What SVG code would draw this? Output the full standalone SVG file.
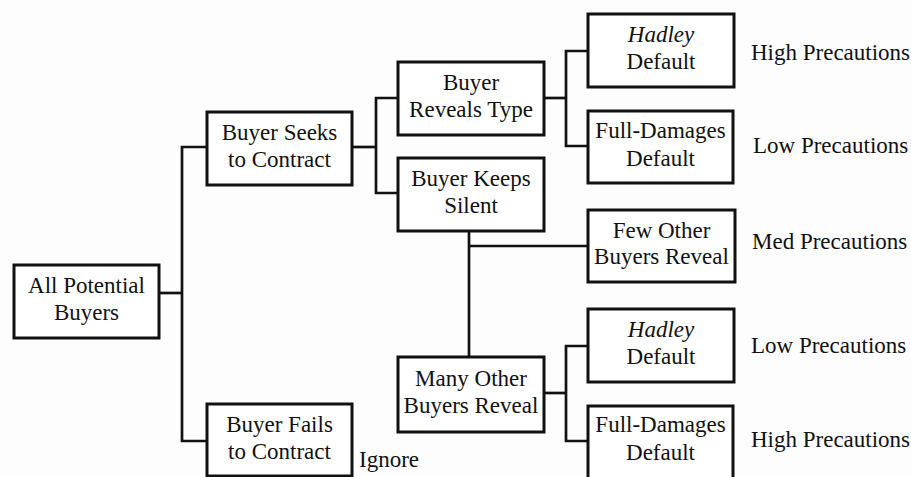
<svg xmlns="http://www.w3.org/2000/svg" width="911" height="477" viewBox="0 0 911 477">
  <style>
    .box { fill: #ffffff; stroke: #111111; stroke-width: 3; }
    .wire { fill: none; stroke: #111111; stroke-width: 2.7; stroke-linejoin: miter; }
    text { font-family: "Liberation Serif", "Times New Roman", serif; font-size: 23px; fill: #111111; }
    .c { text-anchor: middle; }
    .it { font-style: italic; }
  </style>
  <rect x="0" y="0" width="911" height="477" fill="#fdfdfd"/>

  <!-- tree connectors -->
  <g id="connectors">
    <path class="wire" d="M159,293 H182"/>
    <path class="wire" d="M207,147 H182 V441 H207"/>
    <path class="wire" d="M352,147 H376"/>
    <path class="wire" d="M398,98 H376 V193 H398"/>
    <path class="wire" d="M544,98 H566"/>
    <path class="wire" d="M588,51 H566 V146 H588"/>
    <path class="wire" d="M469,231 V357"/>
    <path class="wire" d="M469,246 H588"/>
    <path class="wire" d="M544,393 H566"/>
    <path class="wire" d="M588,346 H566 V441 H588"/>
  </g>

  <g id="all-buyers">
    <rect class="box" x="14" y="265" width="145" height="73"/>
    <text class="c" x="86.5" y="293">All Potential</text>
    <text class="c" x="86.5" y="320">Buyers</text>
  </g>

  <g id="seeks-contract">
    <rect class="box" x="207" y="112" width="145" height="73"/>
    <text class="c" x="279.5" y="140">Buyer Seeks</text>
    <text class="c" x="279.5" y="167">to Contract</text>
  </g>

  <g id="fails-contract">
    <rect class="box" x="207" y="404" width="145" height="72"/>
    <text class="c" x="279.5" y="432">Buyer Fails</text>
    <text class="c" x="279.5" y="459">to Contract</text>
  </g>

  <g id="reveals-type">
    <rect class="box" x="398" y="62" width="146" height="73"/>
    <text class="c" x="471" y="90">Buyer</text>
    <text class="c" x="471" y="117">Reveals Type</text>
  </g>

  <g id="keeps-silent">
    <rect class="box" x="398" y="158" width="146" height="73"/>
    <text class="c" x="471" y="186">Buyer Keeps</text>
    <text class="c" x="471" y="213">Silent</text>
  </g>

  <g id="many-reveal">
    <rect class="box" x="398" y="357" width="146" height="75"/>
    <text class="c" x="471" y="386">Many Other</text>
    <text class="c" x="471" y="413">Buyers Reveal</text>
  </g>

  <g id="hadley-upper">
    <rect class="box" x="588" y="14" width="146" height="73"/>
    <text class="c it" x="661" y="42">Hadley</text>
    <text class="c" x="661" y="69">Default</text>
  </g>

  <g id="full-upper">
    <rect class="box" x="588" y="111" width="145" height="72"/>
    <text class="c" x="660.5" y="138">Full-Damages</text>
    <text class="c" x="660.5" y="166">Default</text>
  </g>

  <g id="few-reveal">
    <rect class="box" x="588" y="210" width="147" height="72"/>
    <text class="c" x="661.5" y="238">Few Other</text>
    <text class="c" x="661.5" y="264">Buyers Reveal</text>
  </g>

  <g id="hadley-lower">
    <rect class="box" x="588" y="309" width="146" height="73"/>
    <text class="c it" x="661" y="337">Hadley</text>
    <text class="c" x="661" y="364">Default</text>
  </g>

  <g id="full-lower">
    <rect class="box" x="588" y="406" width="145" height="73"/>
    <text class="c" x="660.5" y="432">Full-Damages</text>
    <text class="c" x="660.5" y="460">Default</text>
  </g>

  <!-- outcome labels -->
  <g id="outcomes">
    <text x="751" y="60">High Precautions</text>
    <text x="753" y="153">Low Precautions</text>
    <text x="752" y="249">Med Precautions</text>
    <text x="751" y="353">Low Precautions</text>
    <text x="751" y="447">High Precautions</text>
    <text x="359" y="467">Ignore</text>
  </g>
</svg>
